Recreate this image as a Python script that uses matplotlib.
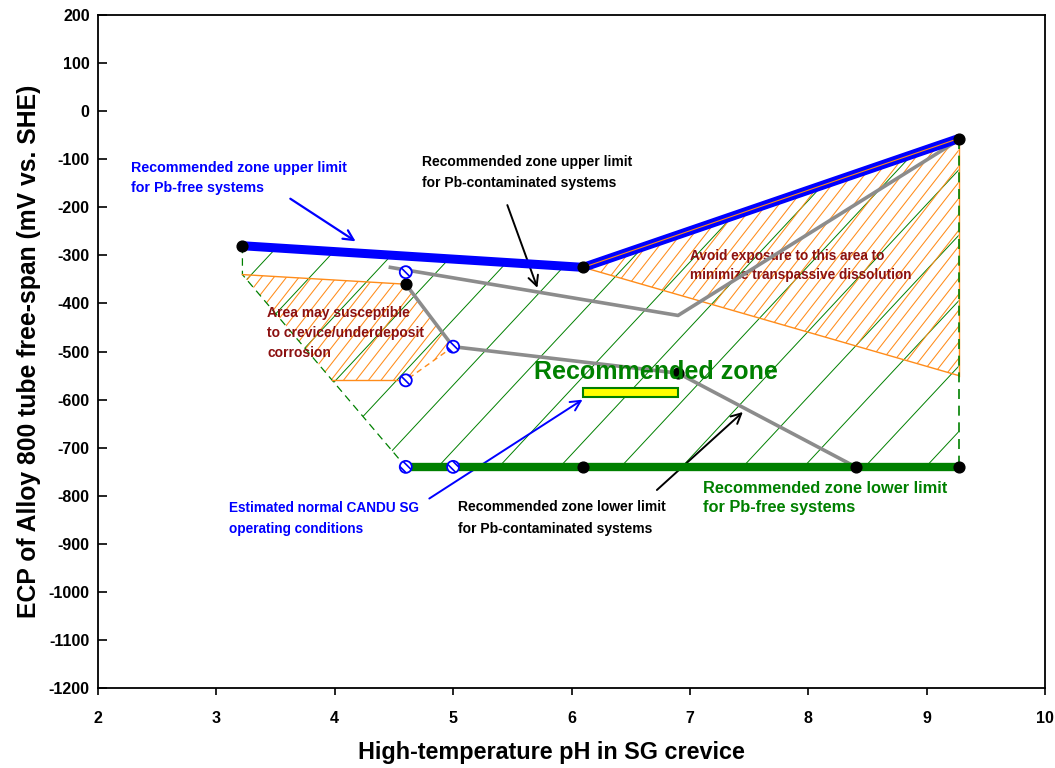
import numpy as np
import matplotlib
matplotlib.use("Agg")
import matplotlib.pyplot as plt
from matplotlib.patches import Polygon, Rectangle
from matplotlib.collections import LineCollection

plt.rcParams["font.family"] = ["Liberation Sans", "DejaVu Sans"]
plt.rcParams["font.weight"] = "bold"
plt.rcParams["hatch.linewidth"] = 1.2
plt.rcParams["axes.unicode_minus"] = False

# =========================
# Datos
# =========================
# límite superior (sistemas sin Pb)
up_free_ph = [3.22, 6.1, 9.27]
up_free_ecp = [-280, -325, -57]
# límite inferior (sistemas sin Pb)
low_free_ph = [4.6, 9.27]
low_free_ecp = [-740, -740]
# límite superior (contaminados con Pb)
up_pb_ph = [4.47, 6.9, 9.27]
up_pb_ecp = [-325, -425, -60]
# límite inferior (contaminados con Pb)
low_pb_ph = [4.6, 5.0, 6.9, 8.4]
low_pb_ecp = [-360, -490, -545, -740]

# zona recomendada
zone_ph = [3.22, 6.1, 9.27, 9.27, 4.6, 3.22]
zone_ecp = [-280, -325, -57, -740, -740, -340]
# zona transpasiva
trans_ph = [6.1, 9.27, 9.27]
trans_ecp = [-325, -57, -550]
# zona de corrosión por rendija
crev_ph = [3.22, 4.6, 5.0, 4.6, 3.98]
crev_ecp = [-340, -360, -490, -560, -560]

# puntos
black_ph = [3.22, 6.1, 9.27, 4.6, 6.9, 6.1, 8.4, 9.27]
black_ecp = [-280, -325, -57, -360, -545, -740, -740, -740]
open_ph = [4.6, 5.0, 4.6, 4.6, 5.0]
open_ecp = [-335, -490, -560, -740, -740]

# condiciones normales CANDU
candu_ph = (6.1, 6.9)
candu_ecp = (-595, -575)

xticks = np.arange(2, 11, 1)
yticks = np.arange(-1200, 201, 100)

GREEN = "#008000"
ORANGE = "#FF8C1A"
DARKRED = "#8B1010"
BLUE = "#0000FF"

# px -> datos (escala del eje)
PX_X = 118.4   # px por unidad pH
PX_Y = 0.4807  # px por mV


def hatch(ax, ph, ecp, angle, spacing_px, color, lw, x_ref, y_ref):
    """Rayado diagonal recortado al polígono."""
    poly = Polygon(np.column_stack([ph, ecp]), closed=True, fill=False,
                   edgecolor="none", transform=ax.transData)
    ax.add_patch(poly)
    slope = np.tan(np.radians(angle)) * PX_X / PX_Y  # mV por pH
    step = spacing_px / PX_X
    segs = []
    for k in range(-120, 120):
        x0 = x_ref + k * step
        xs = np.array([0.0, 12.0])
        ys = y_ref + slope * (xs - x0)
        segs.append(np.column_stack([xs, ys]))
    lc = LineCollection(segs, colors=color, linewidths=lw)
    ax.add_collection(lc)
    lc.set_clip_path(poly)


fig = plt.figure(figsize=(10.55, 7.68), dpi=100)
ax = fig.add_axes([98 / 1055, 1 - 688 / 768, (1045 - 98) / 1055, (688 - 15) / 768])

# rayado
hatch(ax, zone_ph, zone_ecp, 47, 61, GREEN, 0.7, 7.448, -740)
hatch(ax, trans_ph, trans_ecp, 52, 12.5, ORANGE, 0.75, 9.0, -300)
hatch(ax, crev_ph, crev_ecp, 52, 12.5, ORANGE, 0.75, 4.0, -450)

# bordes
ax.plot([3.22, 3.22, 4.6], [-280, -340, -740], color=GREEN, lw=0.9, ls=(0, (6, 4)))
ax.plot([3.22, 4.6], [-340, -360], color=ORANGE, lw=1.0)
ax.plot([3.98, 4.6], [-560, -560], color=ORANGE, lw=1.0)
ax.plot([5.0, 4.6], [-490, -560], color=ORANGE, lw=1.0, ls=(0, (4, 3)))
ax.plot([6.1, 9.27], [-325, -550], color=ORANGE, lw=1.0)
ax.plot([9.27, 9.27], [-57, -550], color=ORANGE, lw=1.0)
ax.plot([9.27, 9.27], [-57, -740], color=GREEN, lw=1.2, ls=(0, (6, 4)))

# líneas
ax.plot(up_pb_ph, up_pb_ecp, color="#8C8C8C", lw=2.6, zorder=4)
ax.plot(low_pb_ph, low_pb_ecp, color="#8C8C8C", lw=2.6, zorder=4)
ax.plot(up_free_ph, up_free_ecp, color=BLUE, lw=6.5, zorder=5, solid_capstyle="butt")
ax.plot(low_free_ph, low_free_ecp, color=GREEN, lw=6, zorder=5, solid_capstyle="butt")
ax.plot(up_free_ph[1:], up_free_ecp[1:], color=ORANGE, lw=0.8, zorder=6)

ax.scatter(black_ph, black_ecp, s=60, color="black", zorder=8)
ax.scatter(open_ph, open_ecp, s=75, facecolor="white", edgecolor=BLUE,
           hatch="\\\\\\\\", linewidth=1.3, zorder=8)

ax.add_patch(Rectangle((candu_ph[0], candu_ecp[0]), candu_ph[1] - candu_ph[0],
                       candu_ecp[1] - candu_ecp[0], facecolor="#FFFF00",
                       edgecolor=GREEN, lw=1.5, zorder=7))

# textos
ax.text(2.28, -139, "Recommended zone upper limit\nfor Pb-free systems", color=BLUE,
        fontsize=10.3, va="center", linespacing=1.55)
ax.annotate("", xy=(4.196, -274), xytext=(3.605, -179),
            arrowprops=dict(arrowstyle="->", color=BLUE, lw=1.6, mutation_scale=18))
ax.text(4.736, -128, "Recommended zone upper limit\nfor Pb-contaminated systems",
        color="black", fontsize=10, va="center", linespacing=1.65)
ax.annotate("", xy=(5.72, -373), xytext=(5.45, -190),
            arrowprops=dict(arrowstyle="->", color="black", lw=1.4, mutation_scale=18))
ax.text(7.0, -321, "Avoid exposure to this area to\nminimize transpassive dissolution",
        color=DARKRED, fontsize=9.8, va="center", linespacing=1.45)
ax.text(3.43, -462, "Area may susceptible\nto crevice/underdeposit\ncorrosion",
        color=DARKRED, fontsize=10, va="center", linespacing=1.55)
ax.text(6.713, -543, "Recommended zone", color=GREEN, fontsize=18,
        ha="center", va="center", zorder=9)
ax.text(3.106, -848, "Estimated normal CANDU SG\noperating conditions", color=BLUE,
        fontsize=9.8, va="center", linespacing=1.6)
ax.annotate("", xy=(6.113, -597), xytext=(4.779, -809),
            arrowprops=dict(arrowstyle="->", color=BLUE, lw=1.4, mutation_scale=18))
ax.text(5.04, -847, "Recommended zone lower limit\nfor Pb-contaminated systems",
        color="black", fontsize=10, va="center", linespacing=1.7)
ax.annotate("", xy=(7.465, -622), xytext=(6.704, -792),
            arrowprops=dict(arrowstyle="->", color="black", lw=1.4, mutation_scale=18))
ax.text(7.11, -805, "Recommended zone lower limit\nfor Pb-free systems", color=GREEN,
        fontsize=11.8, va="center", linespacing=1.3)

# ejes
ax.set_xlim(2, 10)
ax.set_ylim(-1200, 200)
ax.set_xticks(xticks)
ax.set_yticks(yticks)
ax.tick_params(width=1.2, labelsize=11.5, top=False, right=False)
ax.tick_params(axis="x", direction="out", length=5, pad=11.4)
ax.tick_params(axis="y", direction="in", length=6.5, pad=6)
for lab in ax.get_xticklabels() + ax.get_yticklabels():
    lab.set_fontweight("bold")
for sp in ax.spines.values():
    sp.set_linewidth(1.3)
ax.set_xlabel("High-temperature pH in SG crevice", fontsize=16.8, fontweight="bold")
ax.xaxis.set_label_coords((551 - 98) / 947, -(752 - 688) / 673)
ax.xaxis.label.set_va("center")
ax.set_ylabel("ECP of Alloy 800 tube free-span (mV vs. SHE)", fontsize=17.8,
              fontweight="bold")
ax.yaxis.set_label_coords(-(98 - 29) / 947, 0.5)
ax.yaxis.label.set_va("center")

fig.savefig("out.png", dpi=100)
